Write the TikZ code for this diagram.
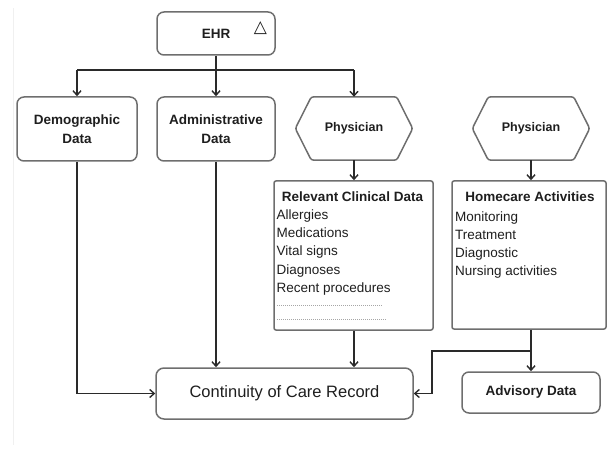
\documentclass[tikz,border=0pt]{standalone}
\usepackage{fontspec}
\setmainfont{Liberation Sans}
\newfontfamily\symfont{DejaVu Sans}
\usetikzlibrary{arrows.meta,calc}
\definecolor{boxgray}{HTML}{6E6E6E}
\definecolor{linegray}{HTML}{2A2A2A}
\definecolor{txt}{HTML}{1E1E1E}
\begin{document}
\begin{tikzpicture}[x=1pt,y=-1pt,
  every node/.style={text=txt},
  rbox/.style={draw=boxgray,line width=1.5pt,rounded corners=7pt,inner sep=0pt,align=center,
    font=\bfseries\fontsize{13.5}{19.5}\selectfont},
  sbox/.style={draw=boxgray,line width=1.5pt,rounded corners=2pt,inner sep=0pt},
  hexn/.style={inner sep=0pt,minimum width=117pt,minimum height=63pt,
    font=\bfseries\fontsize{12.5}{15}\selectfont},
  hexline/.style={draw=boxgray,line width=1.5pt,rounded corners=2.5pt},
  titletext/.style={inner sep=0pt,anchor=base,font=\bfseries\fontsize{13.5}{16}\selectfont},
  listtext/.style={inner sep=0pt,anchor=north west,align=left},
  conn/.style={draw=linegray,line width=1.4pt},
  arr/.style={conn,-{Straight Barb[length=4.5pt,width=8pt]}},
  dotl/.style={draw=gray!70,line width=0.8pt,dash pattern=on 1pt off 1pt}
]
\useasboundingbox (0,0) rectangle (608,449);
\draw[gray!12,line width=0.6pt] (13,8) -- (13,445);

% top
\node[rbox,minimum width=118pt,minimum height=43pt] (ehr) at (216,33.5) {EHR};
\node[inner sep=0pt,font=\symfont\bfseries\fontsize{17}{17}\selectfont] (tri) at (260.5,28.5) {△};

\node[rbox,minimum width=120pt,minimum height=64pt] (demo) at (77,129) {Demographic\\Data};
\node[rbox,minimum width=118pt,minimum height=64pt] (adm) at (216,129) {Administrative\\Data};

\node[hexn] (ph1) at (354,128.5) {Physician};
\node[hexn] (ph2) at (531,128.5) {Physician};
\foreach \h in {ph1,ph2}
  \draw[hexline] (\h.west) -- ([xshift=16pt]\h.north west) -- ([xshift=-16pt]\h.north east)
    -- (\h.east) -- ([xshift=-16pt]\h.south east) -- ([xshift=16pt]\h.south west) -- cycle;

% content boxes
\node[sbox,minimum width=159pt,minimum height=149pt] (rel) at (353.5,255.5) {};
\node[titletext] (relt) at (352.5,202) {Relevant Clinical Data};
\node[listtext,font=\fontsize{13.5}{18.3}\selectfont] (rell) at (276.5,209.3)
  {Allergies\\Medications\\Vital signs\\Diagnoses\\Recent procedures};
\draw[dotl] (277,305) -- (383,305);
\draw[dotl] (277,319) -- (386,319);

\node[sbox,minimum width=154pt,minimum height=148pt] (home) at (529,255) {};
\node[titletext] (homet) at (530,202) {Homecare Activities};
\node[listtext,font=\fontsize{13.5}{18.1}\selectfont] (homel) at (455,211.3)
  {Monitoring\\Treatment\\Diagnostic\\Nursing activities};

% bottom
\node[rbox,rounded corners=8pt,minimum width=257pt,minimum height=51pt,
  font=\fontsize{16.5}{20}\selectfont] (ccr) at (284.5,393.5) {Continuity of Care Record};
\node[rbox,minimum width=138pt,minimum height=41pt] (adv) at (531,392.5) {Advisory Data};

% connectors
\coordinate (hl) at (77,70);
\coordinate (hr) at (354,70);
\coordinate (br) at (432,351);
\draw[conn] (hl) -- (hr);
\draw[arr] (hl) -- (demo.north);
\draw[arr] (ehr.south) -- (adm.north);
\draw[arr] (hr) -- (ph1.north);
\draw[arr] (ph1.south) -- (ph1.south |- rel.north);
\draw[arr] (ph2.south) -- (ph2.south |- home.north);
\draw[arr] (demo.south) |- (ccr.west);
\draw[arr] (adm.south) -- (adm.south |- ccr.north);
\draw[arr] (ph1.south |- rel.south) -- (ph1.south |- ccr.north);
\draw[arr] (adv.north |- home.south) -- (adv.north);
\draw[arr] (adv.north |- br) -- (br) |- (ccr.east);
\end{tikzpicture}
\end{document}
